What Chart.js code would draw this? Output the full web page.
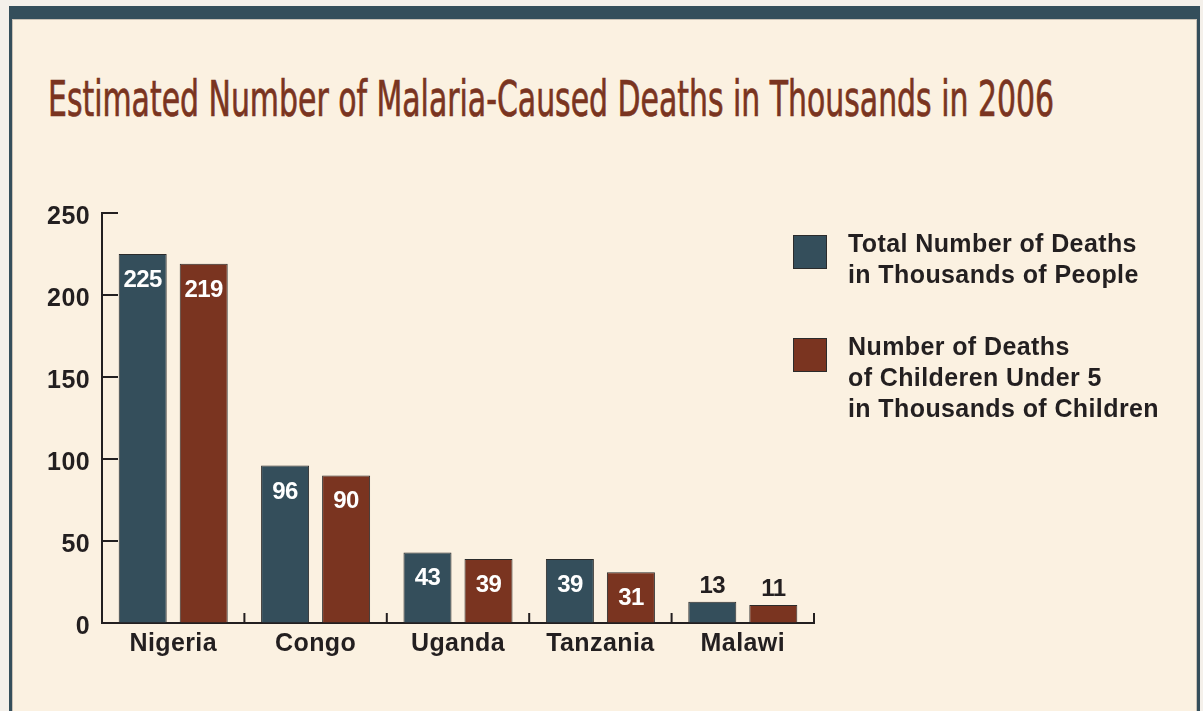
<!DOCTYPE html>
<html>
<head>
<meta charset="utf-8">
<script src="https://cdn.jsdelivr.net/npm/chart.js@4.4.1/dist/chart.umd.min.js"></script>
<style>
  html, body { margin: 0; padding: 0; }
  body { width: 1203px; height: 711px; overflow: hidden; background: #f4f0ea; position: relative; font-family: "Liberation Sans", Arial, sans-serif; }
  #frame { position: absolute; left: 9px; top: 6px; width: 1185px; height: 720px; background: #fbf1e1;
           border-top: 13px solid #344e5b; border-left: 3px solid #344e5b; border-right: 3px solid #344e5b;
           box-shadow: inset 1px 1px 0 #c9c1b5, inset -1px 0 0 #c9c1b5; }
  #title { position: absolute; left: 48px; top: 74px; font-family: "Liberation Sans Narrow", "DejaVu Sans Condensed", "Liberation Sans", sans-serif;
           font-size: 50px; line-height: 50px; color: #7a3420; white-space: nowrap; transform-origin: 0 0;
           -webkit-text-stroke: 0.7px #7a3420; }
  #chart { position: absolute; left: 0; top: 0; }
  .lg-item { position: absolute; left: 793px; }
  .lg-box { position: absolute; left: 0; top: 0; width: 32px; height: 32px; border: 1px solid #2b2b2b; }
  .lg-text { position: absolute; left: 55px; white-space: nowrap; font-weight: bold; font-size: 25px; line-height: 31px; letter-spacing: 0.4px; color: #231f20; }
</style>
</head>
<body>
<div id="frame"></div>
<div id="title">Estimated Number of Malaria-Caused Deaths in Thousands in 2006</div>
<canvas id="chart" width="1203" height="711"></canvas>
<div id="legend"></div>
<script>
const categories = ["Nigeria", "Congo", "Uganda", "Tanzania", "Malawi"];
const totalDeaths = [225, 96, 43, 39, 13];
const childDeaths = [219, 90, 39, 31, 11];
const seriesLabels = ["Total Number of Deaths\nin Thousands of People",
                      "Number of Deaths\nof Childeren Under 5\nin Thousands of Children"];
const yTicks = [0, 50, 100, 150, 200, 250];

const BLUE = "#344e5b", RED = "#7a3420", INK = "#231f20";

// fit title width
(function () {
  const t = document.getElementById("title");
  const w = t.getBoundingClientRect().width;
  t.style.transform = "scaleX(" + (1006 / w) + ")";
})();

const spacingPlugin = {
  id: "spacing",
  beforeLayout(chart) { chart.ctx.letterSpacing = "0.4px"; },
  beforeDraw(chart) { chart.ctx.letterSpacing = "0.4px"; }
};

const inwardTicks = {
  id: "inwardTicks",
  afterDraw(chart) {
    const ctx = chart.ctx, x = chart.scales.x, y = chart.scales.y;
    const area = chart.chartArea;
    ctx.save();
    ctx.strokeStyle = INK;
    ctx.lineWidth = 2;
    ctx.beginPath();
    y.ticks.forEach(t => {
      const py = y.getPixelForValue(t.value);
      ctx.moveTo(area.left, py); ctx.lineTo(area.left + 16, py);
    });
    for (let i = 0; i <= categories.length; i++) {
      const px = x.getPixelForValue(i - 0.5);
      ctx.moveTo(px, area.bottom); ctx.lineTo(px, area.bottom - 10);
    }
    ctx.stroke();
    ctx.restore();
  }
};

const valueLabels = {
  id: "valueLabels",
  afterDatasetsDraw(chart) {
    const ctx = chart.ctx;
    ctx.save();
    ctx.font = "bold 24px 'Liberation Sans', Arial, sans-serif";
    ctx.letterSpacing = "-0.6px";
    ctx.textAlign = "center";
    ctx.textBaseline = "alphabetic";
    chart.data.datasets.forEach((ds, di) => {
      chart.getDatasetMeta(di).data.forEach((bar, i) => {
        const v = ds.data[i];
        if (v >= 20) {
          ctx.fillStyle = "#ffffff";
          ctx.fillText(String(v), bar.x, bar.y + 33);
        } else {
          ctx.fillStyle = INK;
          ctx.fillText(String(v), bar.x, bar.y - 9);
        }
      });
    });
    ctx.restore();
  }
};

const chart = new Chart(document.getElementById("chart"), {
  type: "bar",
  data: {
    labels: categories,
    datasets: [
      { label: seriesLabels[0], data: totalDeaths, backgroundColor: BLUE, borderColor: "#2b2b2b", borderWidth: 1 },
      { label: seriesLabels[1], data: childDeaths, backgroundColor: RED, borderColor: "#2b2b2b", borderWidth: 1 }
    ]
  },
  options: {
    responsive: false,
    devicePixelRatio: 1,
    animation: false,
    categoryPercentage: 0.857,
    barPercentage: 0.787,
    layout: { padding: { left: 0, top: 213, right: 389, bottom: 0 } },
    plugins: { legend: { display: false }, title: { display: false }, tooltip: { enabled: false } },
    scales: {
      x: {
        offset: true,
        grid: { display: true, drawOnChartArea: false, drawTicks: false },
        border: { display: true, color: INK, width: 2 },
        ticks: { color: INK, padding: 6, font: { family: "'Liberation Sans', Arial, sans-serif", size: 25, weight: "bold" } },
        afterFit(s) { s.height = 88; }
      },
      y: {
        min: 0, max: 250,
        afterBuildTicks(s) { s.ticks = yTicks.map(v => ({ value: v })); },
        grid: { display: true, drawOnChartArea: false, drawTicks: false },
        border: { display: true, color: INK, width: 2 },
        ticks: { color: INK, padding: 12, labelOffset: 4, font: { family: "'Liberation Sans', Arial, sans-serif", size: 25, weight: "bold" } },
        afterFit(s) { s.width = 102; }
      }
    }
  },
  plugins: [spacingPlugin, inwardTicks, valueLabels]
});

// HTML legend built from datasets
(function () {
  const lg = document.getElementById("legend");
  const tops = [235, 338];
  chart.data.datasets.forEach((ds, i) => {
    const item = document.createElement("div");
    item.className = "lg-item";
    item.style.top = tops[i] + "px";
    const box = document.createElement("div");
    box.className = "lg-box";
    box.style.background = ds.backgroundColor;
    const txt = document.createElement("div");
    txt.className = "lg-text";
    txt.style.top = "-7px";
    txt.innerHTML = ds.label.split("\n").join("<br>");
    item.appendChild(box); item.appendChild(txt);
    lg.appendChild(item);
  });
})();
</script>
</body>
</html>
